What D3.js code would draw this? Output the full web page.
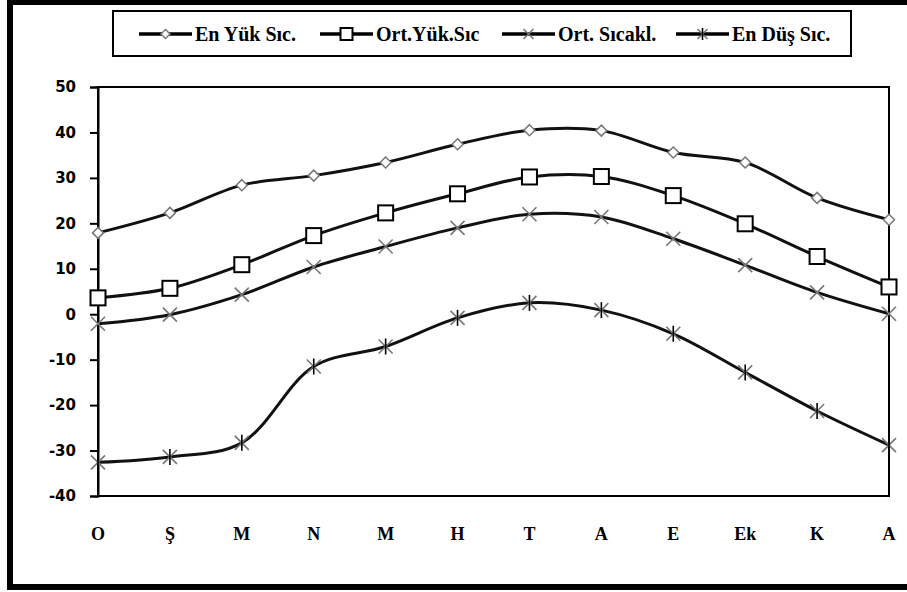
<!DOCTYPE html>
<html>
<head>
<meta charset="utf-8">
<script src="https://cdn.jsdelivr.net/npm/d3@7"></script>
<style>
  html, body { margin: 0; padding: 0; background: #fff; }
  svg { display: block; }
</style>
</head>
<body>
<svg id="chart" width="907" height="592"></svg>
<script>
// Months (Ocak ... Aralık) and monthly temperatures, °C
const months = ["O", "Ş", "M", "N", "M", "H", "T", "A", "E", "Ek", "K", "A"];
const enYukSic  = [17.9, 22.3, 28.4, 30.5, 33.4, 37.4, 40.5, 40.4, 35.6, 33.4, 25.6, 20.8];
const ortYukSic = [3.6, 5.7, 10.9, 17.3, 22.3, 26.5, 30.2, 30.3, 26.1, 19.9, 12.7, 6.0];
const ortSicakl = [-2.1, -0.1, 4.3, 10.4, 14.9, 19.0, 22.0, 21.4, 16.6, 10.8, 4.8, 0.1];
const enDusSic  = [-32.6, -31.4, -28.3, -11.5, -7.1, -0.8, 2.5, 0.9, -4.3, -12.8, -21.3, -28.8];
const seriesNames = ["En Yük Sıc.", "Ort.Yük.Sıc", "Ort. Sıcakl.", "En Düş Sıc."];
const yTicks = [-40, -30, -20, -10, 0, 10, 20, 30, 40, 50];

const series = [
  { name: seriesNames[0], values: enYukSic,  marker: "diamond" },
  { name: seriesNames[1], values: ortYukSic, marker: "square" },
  { name: seriesNames[2], values: ortSicakl, marker: "cross" },
  { name: seriesNames[3], values: enDusSic,  marker: "star" }
];

const svg = d3.select("#chart");

// outer frame
svg.append("rect")
  .attr("x", 10).attr("y", 2).attr("width", 1000).attr("height", 585)
  .attr("fill", "none").attr("stroke", "#000").attr("stroke-width", 6);

const plot = { left: 98, right: 889, top: 87, bottom: 496 };

const x = d3.scalePoint().domain(d3.range(months.length))
  .range([plot.left, plot.right]);
const y = d3.scaleLinear().domain([-40, 50]).range([plot.bottom, plot.top]);

// plot area border
svg.append("rect")
  .attr("x", plot.left).attr("y", plot.top)
  .attr("width", plot.right - plot.left).attr("height", plot.bottom - plot.top)
  .attr("fill", "none").attr("stroke", "#000").attr("stroke-width", 2);

// y axis
const yAxis = svg.append("g")
  .attr("transform", `translate(${plot.left},0)`)
  .call(d3.axisLeft(y).tickValues(yTicks).tickSize(8).tickPadding(14).tickFormat(d => String(d)));
yAxis.select(".domain").attr("stroke-width", 2);
yAxis.selectAll(".tick line").attr("stroke-width", 2);
yAxis.selectAll("text")
  .attr("font-family", "DejaVu Sans, sans-serif")
  .attr("font-weight", "bold").attr("font-size", 15).attr("fill", "#000");

// x labels
svg.append("g").selectAll("text").data(months).join("text")
  .attr("x", (d, i) => x(i)).attr("y", 540)
  .attr("text-anchor", "middle")
  .attr("font-family", "Liberation Serif, serif")
  .attr("font-weight", "bold").attr("font-size", 18)
  .text(d => d);

// marker drawing
function drawMarker(g, type, size) {
  const s = size / 2;
  if (type === "diamond") {
    g.append("path")
      .attr("d", `M0,${-s}L${s},0L0,${s}L${-s},0Z`)
      .attr("fill", "#fff").attr("stroke", "#777").attr("stroke-width", 1.5);
  } else if (type === "square") {
    g.append("rect")
      .attr("x", -s).attr("y", -s).attr("width", size).attr("height", size)
      .attr("fill", "#fff").attr("stroke", "#000").attr("stroke-width", 2);
  } else if (type === "cross") {
    g.append("path")
      .attr("d", `M${-s},${-s}L${s},${s}M${-s},${s}L${s},${-s}`)
      .attr("stroke", "#777").attr("stroke-width", 1.6).attr("fill", "none");
  } else {
    g.append("path")
      .attr("d", `M${-s},${-s}L${s},${s}M${-s},${s}L${s},${-s}`)
      .attr("stroke", "#777").attr("stroke-width", 1.6).attr("fill", "none");
    g.append("path")
      .attr("d", `M0,${-s - 1}L0,${s + 1}`)
      .attr("stroke", "#000").attr("stroke-width", 1.6);
  }
}

const markerSize = { diamond: 11, square: 15, cross: 14, star: 14 };

const line = d3.line()
  .x((d, i) => x(i))
  .y(d => y(d))
  .curve(d3.curveCatmullRom.alpha(0.5));

series.forEach(s => {
  svg.append("path")
    .attr("d", line(s.values))
    .attr("fill", "none").attr("stroke", "#111").attr("stroke-width", 3);
});
series.forEach(s => {
  svg.append("g").selectAll("g").data(s.values).join("g")
    .attr("transform", (d, i) => `translate(${x(i)},${y(d)})`)
    .each(function () { drawMarker(d3.select(this), s.marker, markerSize[s.marker]); });
});

// legend
const legend = svg.append("g");
legend.append("rect")
  .attr("x", 113).attr("y", 11).attr("width", 738).attr("height", 45)
  .attr("fill", "#fff").attr("stroke", "#000").attr("stroke-width", 2);

const legendX = [139, 320, 502, 676];
const legendMarkerSize = { diamond: 9, square: 12, cross: 10, star: 10 };
series.forEach((s, i) => {
  const g = legend.append("g").attr("transform", `translate(${legendX[i]},34)`);
  g.append("line").attr("x1", 0).attr("x2", 53).attr("y1", 0).attr("y2", 0)
    .attr("stroke", "#000").attr("stroke-width", 3.5);
  drawMarker(g.append("g").attr("transform", "translate(26.5,0)"), s.marker, legendMarkerSize[s.marker]);
  g.append("text")
    .attr("x", 56).attr("y", 7)
    .attr("font-family", "Liberation Serif, serif")
    .attr("font-weight", "bold").attr("font-size", 20)
    .text(s.name);
});
</script>
</body>
</html>
